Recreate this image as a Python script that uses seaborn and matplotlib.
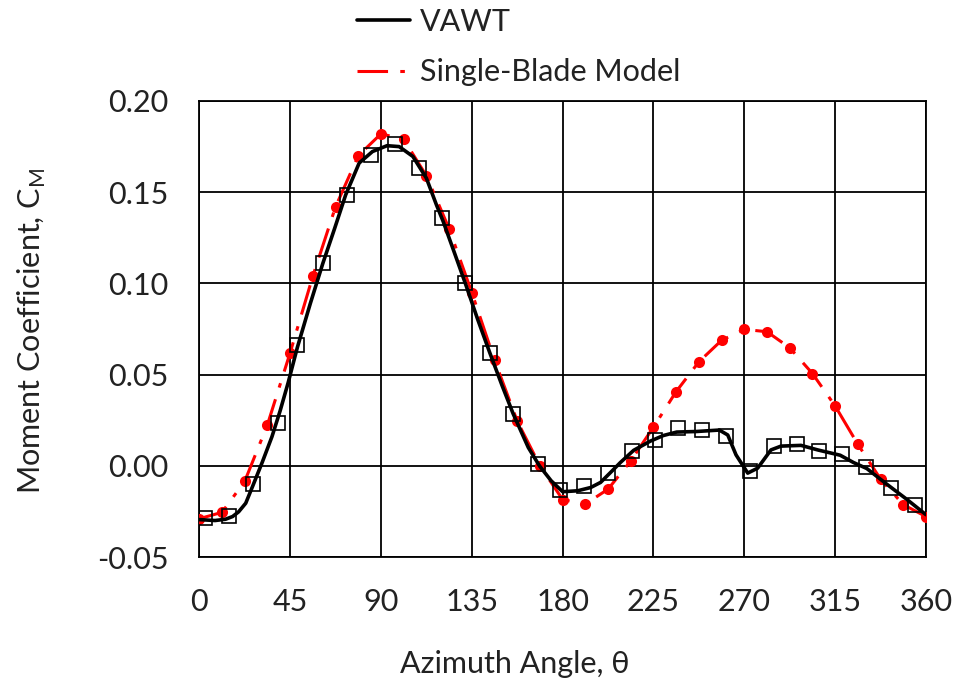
import matplotlib
matplotlib.use("Agg")
import matplotlib.pyplot as plt
import seaborn as sns
import pandas as pd

# Single-blade model samples (every 11.25 deg)
sbm_theta = [0, 11.25, 22.5, 33.75, 45, 56.25, 67.5, 78.75, 90, 101.25, 112.5,
             123.75, 135, 146.25, 157.5, 168.75, 180, 191.25, 202.5, 213.75,
             225, 236.25, 247.5, 258.75, 270, 281.25, 292.5, 303.75, 315,
             326.25, 337.5, 348.75, 360]
sbm_cm = [-0.029, -0.0255, -0.0085, 0.0225, 0.062, 0.104, 0.142, 0.170, 0.182,
          0.179, 0.159, 0.130, 0.095, 0.058, 0.0245, 0.000, -0.0185, -0.021,
          -0.0128, 0.0027, 0.0212, 0.0407, 0.057, 0.0688, 0.0748, 0.0735,
          0.0647, 0.0506, 0.0328, 0.0118, -0.0073, -0.0213, -0.0278]

# Full VAWT moment coefficient curve
vawt_theta = [0, 7.8, 13, 16.5, 19.5, 23, 26.5, 31.2, 36, 40, 44, 48.6, 55,
              61.2, 67, 72.5, 79.2, 85.8, 93, 99, 105.8, 112.5, 117.5, 120.8,
              126, 131.8, 138, 143.9, 150, 155.5, 163, 168.5, 174.3, 180,
              187.4, 193.9, 198.8, 204.5, 208.6, 215.2, 223.4, 229.9, 236.5,
              246.2, 257.6, 261.8, 265.9, 271.7, 276.6, 283.2, 288.2, 298.1,
              306.4, 317.5, 324.1, 330.7, 340.5, 350.4, 360]
vawt_cm = [-0.0295, -0.030, -0.0293, -0.0278, -0.0252, -0.0205, -0.011,
           0.002, 0.016, 0.030, 0.0455, 0.065, 0.089, 0.111, 0.130, 0.1485,
           0.166, 0.1723, 0.1755, 0.175, 0.1696, 0.1577, 0.143, 0.134, 0.118,
           0.100, 0.080, 0.062, 0.044, 0.0285, 0.010, 0.0, -0.0082, -0.0142,
           -0.0137, -0.0119, -0.0091, -0.0028, 0.0018, 0.0085, 0.0135, 0.0166,
           0.0185, 0.0188, 0.0196, 0.0169, 0.006, -0.004, -0.0013, 0.0087,
           0.0108, 0.0112, 0.0087, 0.0058, 0.0018, -0.0015, -0.010, -0.0183,
           -0.0268]

# VAWT sample markers
vawt_mk_theta = [2.8, 14.9, 26.8, 38.8, 48.6, 61.2, 73.1, 85.3, 97.0, 109.0,
                 120.1, 131.8, 143.9, 155.5, 167.9, 178.8, 190.6, 202.6,
                 214.5, 226.0, 237.2, 249.2, 260.7, 273.0, 284.6, 296.2,
                 307.2, 318.5, 330.5, 342.6, 354.4]
vawt_mk_cm = [-0.0285, -0.0275, -0.010, 0.0237, 0.0664, 0.111, 0.1485, 0.1705,
              0.1765, 0.163, 0.136, 0.100, 0.062, 0.0285, 0.001, -0.0135,
              -0.011, -0.004, 0.0082, 0.014, 0.0205, 0.0198, 0.0162, -0.003,
              0.0107, 0.012, 0.0082, 0.0066, -0.0009, -0.012, -0.0216]

x_ticks = [0, 45, 90, 135, 180, 225, 270, 315, 360]
y_ticks = [-0.05, 0.00, 0.05, 0.10, 0.15, 0.20]
y_tick_labels = ["-0.05", "0.00", "0.05", "0.10", "0.15", "0.20"]

sns.set_style("white")
plt.rcParams["font.family"] = ["Lato", "DejaVu Sans"]
plt.rcParams["mathtext.fontset"] = "custom"
plt.rcParams["mathtext.rm"] = "Lato"
FS = 22
TXT = "#222222"

sbm = pd.DataFrame({"theta": sbm_theta, "cm": sbm_cm})
vawt = pd.DataFrame({"theta": vawt_theta, "cm": vawt_cm})
vawt_mk = pd.DataFrame({"theta": vawt_mk_theta, "cm": vawt_mk_cm})

fig = plt.figure(figsize=(9.55, 6.88), dpi=100)
ax = fig.add_axes([0.2087, 0.1904, 0.7609, 0.6628])

red = "#ff0000"
sns.lineplot(data=sbm, x="theta", y="cm", ax=ax, color=red, lw=2.2,
             linestyle=(0, (10, 4, 1.5, 4)), label="Single-Blade Model", zorder=3)
sns.lineplot(data=sbm, x="theta", y="cm", ax=ax, color=red, linestyle="",
             marker="o", markersize=8, markeredgewidth=0, legend=False,
             zorder=3)
sns.lineplot(data=vawt, x="theta", y="cm", ax=ax, color="black", lw=2.6,
             label="VAWT", zorder=4)
sns.lineplot(data=vawt_mk, x="theta", y="cm", ax=ax, color="black",
             linestyle="", marker="s", markersize=9.5, markerfacecolor="none",
             markeredgecolor="black", markeredgewidth=1.2, legend=False,
             zorder=5)

ax.set_xlim(0, 360)
ax.set_ylim(-0.05, 0.20)
ax.set_xticks(x_ticks)
ax.set_xticklabels([str(t) for t in x_ticks])
ax.set_yticks(y_ticks)
ax.set_yticklabels(y_tick_labels)
ax.grid(True, color="black", lw=1.3)
ax.set_axisbelow(True)
for s in ax.spines.values():
    s.set_color("black")
    s.set_linewidth(1.3)
ax.tick_params(axis="x", length=0, pad=22, labelsize=FS, labelcolor=TXT)
ax.tick_params(axis="y", length=9, width=1.3, direction="out", color="black",
               pad=13, labelsize=FS, labelcolor=TXT)

ax.set_xlabel("Azimuth Angle, θ", fontsize=FS, color=TXT)
ax.set_ylabel(r"Moment Coefficient, C$_{\mathregular{M}}$", fontsize=FS,
              color=TXT)
ax.xaxis.set_label_coords(0.434, -0.205)
ax.yaxis.set_label_coords(-0.208, 0.496)

handles, labels = ax.get_legend_handles_labels()
order = [labels.index("VAWT"), labels.index("Single-Blade Model")]
ax.legend([handles[i] for i in order], [labels[i] for i in order],
          loc="upper left", bbox_to_anchor=(0.217, 1.205), frameon=False,
          fontsize=FS, borderpad=0, borderaxespad=0, handlelength=1.75,
          handletextpad=0.3, labelspacing=0.75, labelcolor=TXT)

fig.savefig("out.png", dpi=100)
